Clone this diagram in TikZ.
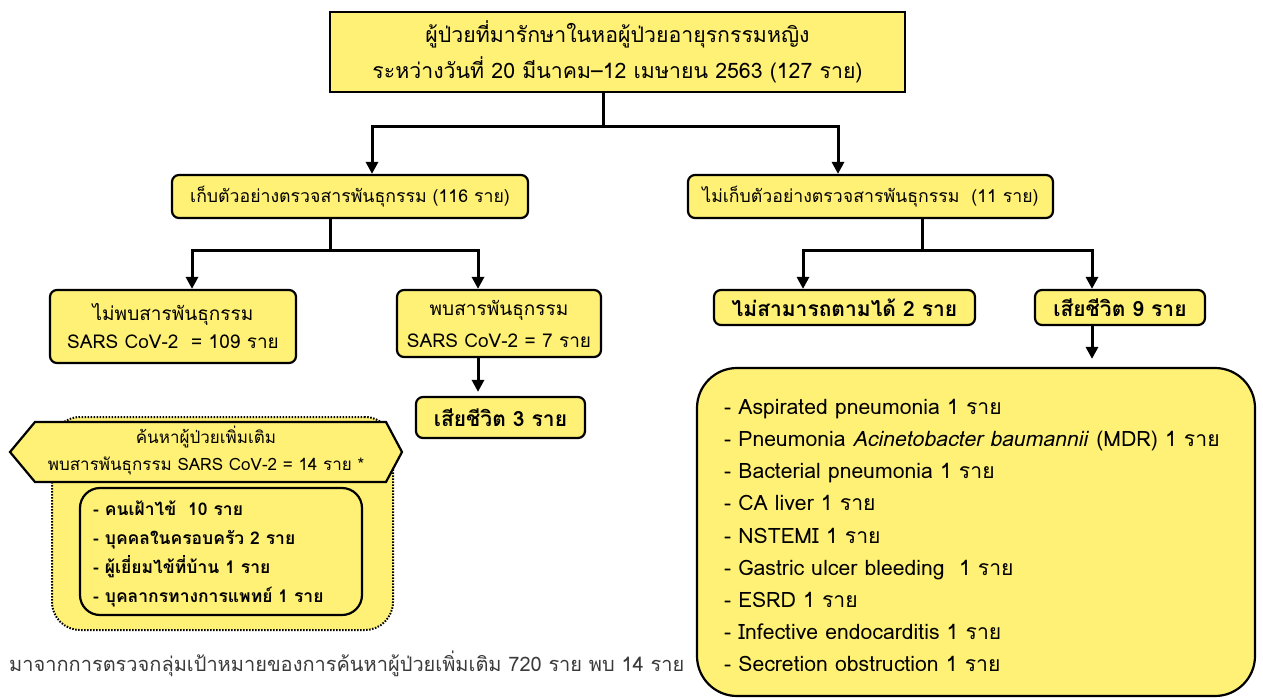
\documentclass[tikz,border=0pt]{standalone}
\usepackage{fontspec}
\setmainfont[Script=Thai]{Loma}
\usetikzlibrary{arrows.meta,calc}
\definecolor{boxyellow}{HTML}{FFF176}
\definecolor{notegray}{HTML}{3A3A3A}
\begin{document}
\begin{tikzpicture}[x=1pt,y=-1pt,
  box/.style={draw=black, line width=2.2pt, fill=boxyellow, align=center, inner sep=0pt},
  rbox/.style={box, rounded corners=7pt},
  conn/.style={line width=3pt, line join=miter},
  arr/.style={conn, -{Triangle[length=12pt,width=12pt]}},
  darr/.style={conn, {Triangle[length=12pt,width=12pt]}-{Triangle[length=12pt,width=12pt]}},
  ftop/.style={font=\fontsize{21.3}{36}\selectfont},
  fbig/.style={font=\bfseries\fontsize{21}{36}\selectfont},
  fmid/.style={font=\fontsize{17.7}{28}\selectfont},
  flist/.style={font=\fontsize{21.2}{32.1}\selectfont},
  fsmall/.style={font=\fontsize{17}{27}\selectfont},
  fin/.style={font=\bfseries\fontsize{17.5}{29}\selectfont},
]
\useasboundingbox (0,0) rectangle (1263,698);

% top
\node[box, ftop, minimum width=575pt, minimum height=80pt] (top) at (617.5,52)
  {ผู้ป่วยที่มารักษาในหอผู้ป่วยอายุรกรรมหญิง\\ระหว่างวันที่ 20 มีนาคม–12 เมษายน 2563 (127 ราย)};

% level 1
\node[rbox, fmid, minimum width=356pt, minimum height=43pt] (L1) at (350,196.5)
  {เก็บตัวอย่างตรวจสารพันธุกรรม (116 ราย)};
\node[rbox, fmid, minimum width=365pt, minimum height=43pt] (R1) at (870.5,196.5)
  {ไม่เก็บตัวอย่างตรวจสารพันธุกรรม\ \ (11 ราย)};

% level 2 left
\node[rbox, font=\fontsize{19}{28}\selectfont, minimum width=246pt, minimum height=73pt] (L2a) at (173,326.5)
  {ไม่พบสารพันธุกรรม\\SARS CoV-2\ \ = 109 ราย};
\node[rbox, font=\fontsize{19}{32}\selectfont, minimum width=204pt, minimum height=67pt] (L2b) at (499,323.5)
  {พบสารพันธุกรรม\\SARS CoV-2 = 7 ราย};
\node[rbox, fbig, minimum width=169pt, minimum height=41pt] (D3) at (500.5,417.5)
  {เสียชีวิต 3 ราย};

% level 2 right
\node[rbox, fbig, minimum width=261pt, minimum height=35pt] (R2a) at (844.5,307.5)
  {ไม่สามารถตามได้ 2 ราย};
\node[rbox, fbig, minimum width=170pt, minimum height=35pt] (R2b) at (1120,307.5)
  {เสียชีวิต 9 ราย};

% big list box
\node[box, rounded corners=40pt, minimum width=558pt, minimum height=328pt] (big) at (976,532) {};
\node[flist, anchor=west, align=left, inner sep=0pt] (blist) at (724,535.5)
  {- Aspirated pneumonia 1 ราย\\
   - Pneumonia \textit{Acinetobacter baumannii} (MDR) 1 ราย\\
   - Bacterial pneumonia 1 ราย\\
   - CA liver 1 ราย\\
   - NSTEMI 1 ราย\\
   - Gastric ulcer bleeding\ \ 1 ราย\\
   - ESRD 1 ราย\\
   - Infective endocarditis 1 ราย\\
   - Secretion obstruction 1 ราย};

% dotted group
\node[draw=black, line width=2pt, dash pattern=on 1.5pt off 1.5pt, fill=boxyellow,
      rounded corners=28pt, minimum width=341pt, minimum height=213pt, inner sep=0pt] (grp) at (222.5,523.5) {};
\draw[box] (10,452) -- (35,422) -- (386,422) -- (402,452) -- (386,482) -- (35,482) -- cycle;
\node[fsmall, align=center] (hex) at (206,450)
  {ค้นหาผู้ป่วยเพิ่มเติม\\พบสารพันธุกรรม SARS CoV-2 = 14 ราย *};
\node[box, rounded corners=20pt, minimum width=282pt, minimum height=127pt] (inner) at (221,551.5) {};
\node[fin, anchor=west, align=left, inner sep=0pt] (ilist) at (93,554)
  {- คนเฝ้าไข้\ \ 10 ราย\\
   - บุคคลในครอบครัว 2 ราย\\
   - ผู้เยี่ยมไข้ที่บ้าน 1 ราย\\
   - บุคลากรทางการแพทย์ 1 ราย};

% footnote
\node[anchor=west, inner sep=0pt, text=notegray, font=\fontsize{20}{22}\selectfont] (note) at (9,664)
  {มาจากการตรวจกลุ่มเป้าหมายของการค้นหาผู้ป่วยเพิ่มเติม 720 ราย พบ 14 ราย};

% connectors
\coordinate (jT) at (603,127);
\coordinate (jL) at (372,127);
\coordinate (jR) at (838,127);
\draw[conn] (jT |- top.south) -- (jT);
\draw[darr] (jL |- L1.north) -- (jL) -- (jR) -- (jR |- R1.north);

\coordinate (kT) at (330,250);
\coordinate (kL) at (192,250);
\coordinate (kR) at (478,250);
\draw[conn] (kT |- L1.south) -- (kT);
\draw[darr] (kL |- L2a.north) -- (kL) -- (kR) -- (kR |- L2b.north);
\draw[arr] (kR |- L2b.south) -- ([yshift=4pt]kR |- D3.north);

\coordinate (mT) at (922,250);
\coordinate (mL) at (803,250);
\coordinate (mR) at (1092,250);
\draw[conn] (mT |- R1.south) -- (mT);
\draw[darr] (mL |- R2a.north) -- (mL) -- (mR) -- (mR |- R2b.north);
\draw[arr] ([yshift=2pt]mR |- R2b.south) -- ([yshift=8pt]mR |- big.north);
\end{tikzpicture}
\end{document}
